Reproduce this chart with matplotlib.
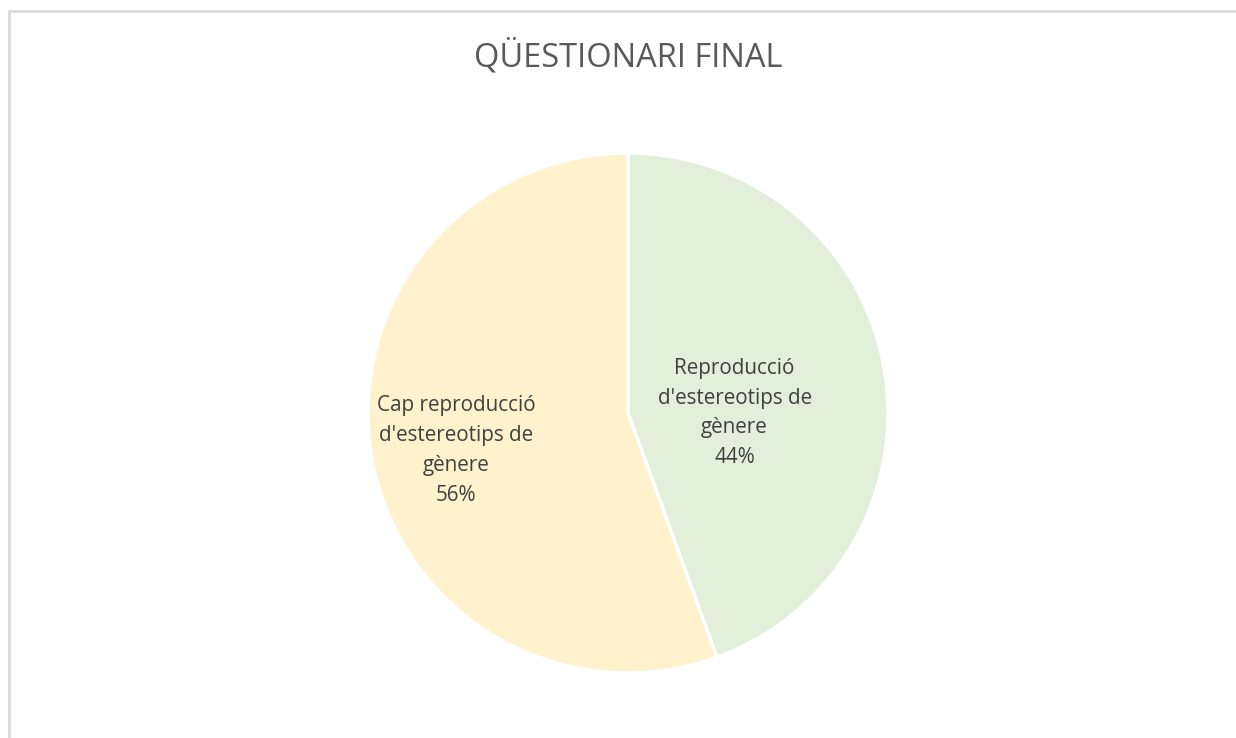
import matplotlib
matplotlib.use("Agg")
import matplotlib.pyplot as plt
from matplotlib.patches import Rectangle

labels = ["Reproducció\nd'estereotips de\ngènere", "Cap reproducció\nd'estereotips de\ngènere"]
counts = [4, 5]   # slice boundary sits at ~4/9 of the circle
colors = ["#E2EFDA", "#FFF2CC"]
TITLE = "QÜESTIONARI FINAL"
TXT = "#404040"

plt.rcParams["font.family"] = ["Open Sans", "DejaVu Sans"]

W, H = 1236, 738
fig = plt.figure(figsize=(W / 100, H / 100), dpi=100)
# chart-area border (cut off at right/bottom like the original screenshot)
fig.patches.append(Rectangle((9 / W, -0.01), 1.0, 1 - 10.5 / H + 0.01,
                             transform=fig.transFigure, fill=False,
                             edgecolor="#d9d9d9", lw=2))

# pie centre (628, 413) px, radius 260 px
cx, cy, r = 628, 413, 260
ax = fig.add_axes([(cx - r) / W, (H - cy - r) / H, 2 * r / W, 2 * r / H])
ax.axis("off")

wedges, _ = ax.pie(counts, colors=colors, startangle=90, counterclock=False,
                   radius=1, wedgeprops=dict(edgecolor="white", linewidth=2.5))
ax.set_xlim(-1, 1)
ax.set_ylim(-1, 1)

# in-slice labels: category + percentage
total = sum(counts)
pos = [(0.41, 0.0), (-0.66, -0.145)]
for (x, y), lab, c in zip(pos, labels, counts):
    ax.text(x, y, f"{lab}\n{round(100 * c / total)}%", ha="center", va="center",
            fontsize=14.9, color=TXT, linespacing=1.55)

fig.text(cx / W, 1 - 57 / H, TITLE, ha="center", va="center",
         fontsize=23.5, color="#595959")

fig.savefig("out.png", dpi=100)
